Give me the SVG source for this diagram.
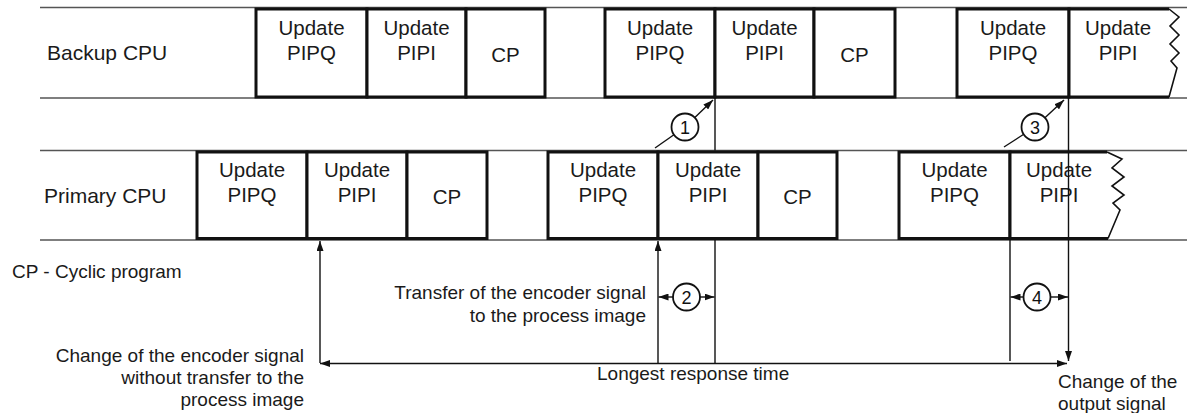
<svg xmlns="http://www.w3.org/2000/svg" width="1187" height="413" viewBox="0 0 1187 413">
<style>
  .row{stroke:#555;stroke-width:1.3;fill:none}
  .box{fill:#fff;stroke:#111;stroke-width:3}
  .zz{fill:none;stroke:#111;stroke-width:1.6;stroke-linejoin:miter}
  .bt{font-family:"Liberation Sans",Arial,sans-serif;font-size:20.5px;fill:#1a1a1a;text-anchor:middle}
  .lbl{font-family:"Liberation Sans",Arial,sans-serif;font-size:21px;fill:#1a1a1a}
  .ann{font-family:"Liberation Sans",Arial,sans-serif;font-size:19px;fill:#1a1a1a}
  .end{text-anchor:end}
  .ln{stroke:#111;stroke-width:1.4;fill:none}
  .circ{fill:#fff;stroke:#111;stroke-width:1.8}
  .num{font-family:"Liberation Sans",Arial,sans-serif;font-size:18px;fill:#111;text-anchor:middle}
</style>
<defs>
  <marker id="arr" markerUnits="userSpaceOnUse" markerWidth="11" markerHeight="7" refX="10" refY="3.5" orient="auto-start-reverse">
    <path d="M0,0 L10,3.5 L0,7 z" fill="#111"/>
  </marker>
</defs>
<rect width="1187" height="413" fill="#fff"/>

<!-- row lines -->
<g id="rows">
  <line class="row" x1="40" y1="7.5" x2="1187" y2="7.5"/>
  <line class="row" x1="40" y1="98" x2="1187" y2="98"/>
  <line class="row" x1="40" y1="150.5" x2="1187" y2="150.5"/>
  <line class="row" x1="40" y1="240" x2="1187" y2="240"/>
  <text class="lbl" x="47" y="60">Backup CPU</text>
  <text class="lbl" x="44" y="203">Primary CPU</text>
</g>

<!-- Backup CPU boxes -->
<g id="b1q"><rect class="box" x="256" y="9" width="111" height="88"/><text class="bt" x="311.5" y="35">Update</text><text class="bt" x="311.5" y="60">PIPQ</text></g>
<g id="b1i"><rect class="box" x="367" y="9" width="99" height="88"/><text class="bt" x="416.5" y="35">Update</text><text class="bt" x="416.5" y="60">PIPI</text></g>
<g id="b1c"><rect class="box" x="466" y="9" width="79" height="88"/><text class="bt" x="505.5" y="62">CP</text></g>
<g id="b2q"><rect class="box" x="605" y="9" width="110" height="88"/><text class="bt" x="660" y="35">Update</text><text class="bt" x="660" y="60">PIPQ</text></g>
<g id="b2i"><rect class="box" x="715" y="9" width="99" height="88"/><text class="bt" x="764.5" y="35">Update</text><text class="bt" x="764.5" y="60">PIPI</text></g>
<g id="b2c"><rect class="box" x="814" y="9" width="81" height="88"/><text class="bt" x="854.5" y="62">CP</text></g>
<g id="b3q"><rect class="box" x="957" y="9" width="112" height="88"/><text class="bt" x="1013" y="35">Update</text><text class="bt" x="1013" y="60">PIPQ</text></g>
<g id="b3i">
  <path d="M1069,9 L1169,9 L1179,17 L1170,26 L1179,35 L1170,44 L1179,53 L1171,61 L1177,68 L1169,97 L1069,97 Z" fill="#fff" stroke="none"/>
  <path d="M1169,9 L1069,9 L1069,97 L1169,97" fill="none" stroke="#111" stroke-width="3"/>
  <path class="zz" d="M1169,9 L1179,17 L1170,26 L1179,35 L1170,44 L1179,53 L1171,61 L1177,68 L1169,97"/>
  <text class="bt" x="1118" y="35">Update</text><text class="bt" x="1118" y="60">PIPI</text>
</g>

<!-- Primary CPU boxes -->
<g id="p1q"><rect class="box" x="197" y="152" width="110" height="86.5"/><text class="bt" x="252" y="177">Update</text><text class="bt" x="252" y="202">PIPQ</text></g>
<g id="p1i"><rect class="box" x="307" y="152" width="100" height="86.5"/><text class="bt" x="357" y="177">Update</text><text class="bt" x="357" y="202">PIPI</text></g>
<g id="p1c"><rect class="box" x="407" y="152" width="80" height="86.5"/><text class="bt" x="447" y="204">CP</text></g>
<g id="p2q"><rect class="box" x="548" y="152" width="110" height="86.5"/><text class="bt" x="603" y="177">Update</text><text class="bt" x="603" y="202">PIPQ</text></g>
<g id="p2i"><rect class="box" x="658" y="152" width="100" height="86.5"/><text class="bt" x="708" y="177">Update</text><text class="bt" x="708" y="202">PIPI</text></g>
<g id="p2c"><rect class="box" x="758" y="152" width="79" height="86.5"/><text class="bt" x="797.5" y="204">CP</text></g>
<g id="p3q"><rect class="box" x="899" y="152" width="111" height="86.5"/><text class="bt" x="954.5" y="177">Update</text><text class="bt" x="954.5" y="202">PIPQ</text></g>
<g id="p3i">
  <path d="M1010,152 L1107,152 L1122,159 L1112,168 L1124,177 L1112,186 L1124,195 L1113,203 L1120,210 L1108,238.5 L1010,238.5 Z" fill="#fff" stroke="none"/>
  <path d="M1107,152 L1010,152 L1010,238.5 L1108,238.5" fill="none" stroke="#111" stroke-width="3"/>
  <path class="zz" d="M1107,152 L1122,159 L1112,168 L1124,177 L1112,186 L1124,195 L1113,203 L1120,210 L1108,238.5"/>
  <text class="bt" x="1059" y="177">Update</text><text class="bt" x="1059" y="202">PIPI</text>
</g>

<!-- connectors -->
<g id="connectors">
  <line class="ln" x1="715" y1="97" x2="715" y2="150.5"/>
  <line class="ln" x1="715" y1="240" x2="715" y2="363"/>
  <line class="ln" x1="658" y1="363" x2="658" y2="241" marker-end="url(#arr)"/>
  <line class="ln" x1="320" y1="363" x2="320" y2="241" marker-end="url(#arr)"/>
  <line class="ln" x1="1010" y1="240" x2="1010" y2="361"/>
  <line class="ln" x1="1068.5" y1="97" x2="1068.5" y2="361" marker-end="url(#arr)"/>
  <line class="ln" x1="320" y1="363.5" x2="1067" y2="363.5" marker-start="url(#arr)" marker-end="url(#arr)"/>
  <!-- callout 1 -->
  <line class="ln" x1="655" y1="148" x2="685" y2="127"/>
  <line class="ln" x1="685" y1="127" x2="713" y2="100" marker-end="url(#arr)"/>
  <!-- callout 3 -->
  <line class="ln" x1="1004" y1="147" x2="1035" y2="127"/>
  <line class="ln" x1="1035" y1="127" x2="1064" y2="100" marker-end="url(#arr)"/>
  <!-- dimension 2 -->
  <line class="ln" x1="686" y1="297" x2="658.5" y2="297" marker-end="url(#arr)"/>
  <line class="ln" x1="686" y1="297" x2="714.5" y2="297" marker-end="url(#arr)"/>
  <!-- dimension 4 -->
  <line class="ln" x1="1037" y1="297" x2="1010.5" y2="297" marker-end="url(#arr)"/>
  <line class="ln" x1="1037" y1="297" x2="1068" y2="297" marker-end="url(#arr)"/>
</g>

<g id="c1"><circle class="circ" cx="685" cy="127" r="13.5"/><text class="num" x="685" y="133.5">1</text></g>
<g id="c3"><circle class="circ" cx="1035" cy="127" r="13.5"/><text class="num" x="1035" y="133.5">3</text></g>
<g id="c2"><circle class="circ" cx="686.5" cy="297" r="13.5"/><text class="num" x="686.5" y="303.5">2</text></g>
<g id="c4"><circle class="circ" cx="1037" cy="297" r="13.5"/><text class="num" x="1037" y="303.5">4</text></g>

<!-- annotations -->
<g id="notes">
  <text class="ann" x="12" y="278">CP - Cyclic program</text>
  <text class="ann end" x="646" y="299">Transfer of the encoder signal</text>
  <text class="ann end" x="646" y="321.5">to the process image</text>
  <text class="ann end" x="304" y="362">Change of the encoder signal</text>
  <text class="ann end" x="304" y="384">without transfer to the</text>
  <text class="ann end" x="304" y="406">process image</text>
  <text class="ann" x="597" y="380">Longest response time</text>
  <text class="ann" x="1058" y="388">Change of the</text>
  <text class="ann" x="1058" y="409.5">output signal</text>
</g>
</svg>
